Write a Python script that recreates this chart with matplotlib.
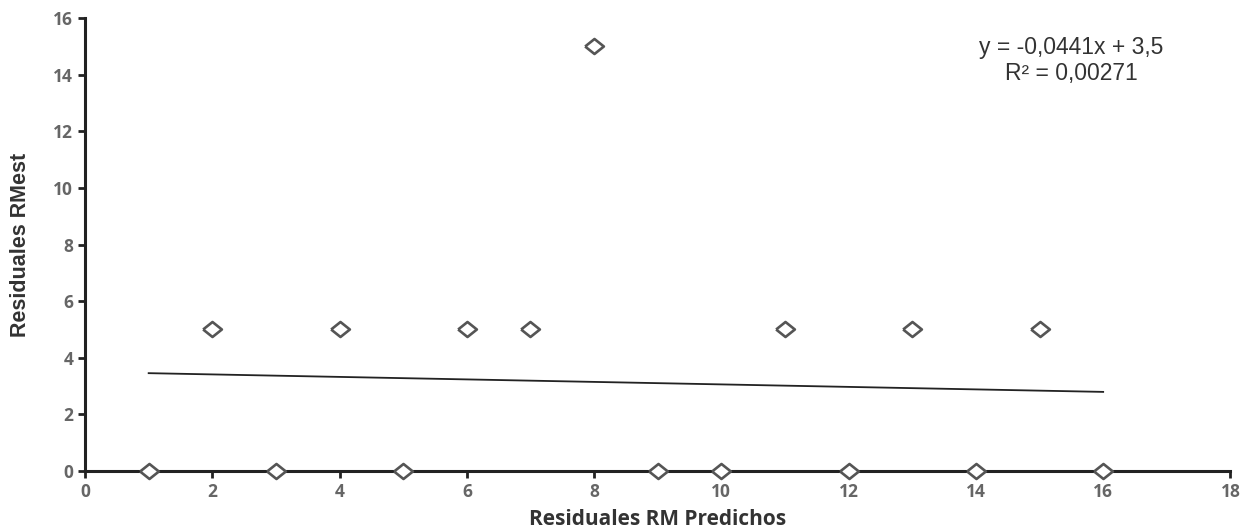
import matplotlib
matplotlib.use("Agg")
import matplotlib.pyplot as plt
import numpy as np

x_vals = [1, 2, 3, 4, 5, 6, 7, 8, 9, 10, 11, 12, 13, 14, 15, 16]
y_vals = [0, 5, 0, 5, 0, 5, 5, 15, 0, 0, 5, 0, 5, 0, 5, 0]
slope = -0.0441
intercept = 3.5
x_ticks = [0, 2, 4, 6, 8, 10, 12, 14, 16, 18]
y_ticks = [0, 2, 4, 6, 8, 10, 12, 14, 16]
eq_lines = ["y = -0,0441x + 3,5", "R² = 0,00271"]

fig = plt.figure(figsize=(12.45, 5.31), dpi=100)
ax = fig.add_axes([0.0683, 0.113, 0.92, 0.853])

diamond = [(-1, 0), (0, 0.8), (1, 0), (0, -0.8), (-1, 0)]

xs = np.array([min(x_vals), max(x_vals)])
ax.plot(xs, slope * xs + intercept, color="#222222", lw=1.3, zorder=2)
ax.plot(x_vals, y_vals, linestyle="none", marker=diamond, markersize=13.5,
        markerfacecolor="white", markeredgecolor="#555555", markeredgewidth=1.9,
        zorder=4, clip_on=False)

ax.set_xlim(0, 18)
ax.set_ylim(0, 16)
ax.set_xticks(x_ticks)
ax.set_yticks(y_ticks)
for s in ["top", "right"]:
    ax.spines[s].set_visible(False)
for s in ["left", "bottom"]:
    ax.spines[s].set_linewidth(2.2)
    ax.spines[s].set_color("#222222")
ax.tick_params(axis="both", direction="out", length=5, width=2, color="#222222",
               labelcolor="#666666", labelsize=12.5)
for lab in ax.get_xticklabels() + ax.get_yticklabels():
    lab.set_fontfamily("Open Sans")
    lab.set_fontweight("bold")

ax.set_xlabel("Residuales RM Predichos", fontfamily="Open Sans", fontweight="bold",
              fontsize=15, color="#333333", labelpad=6)
ax.set_ylabel("Residuales RMest", fontfamily="Liberation Sans", fontweight="bold",
              fontsize=15.5, color="#333333", labelpad=16)

ax.text(15.5, 14.95, eq_lines[0], ha="center", va="center", fontsize=16.5,
        fontfamily="Liberation Sans", color="#333333")
ax.text(15.5, 14.05, eq_lines[1], ha="center", va="center", fontsize=16.5,
        fontfamily="Liberation Sans", color="#333333")

fig.savefig("out.png", dpi=100, facecolor="white")
